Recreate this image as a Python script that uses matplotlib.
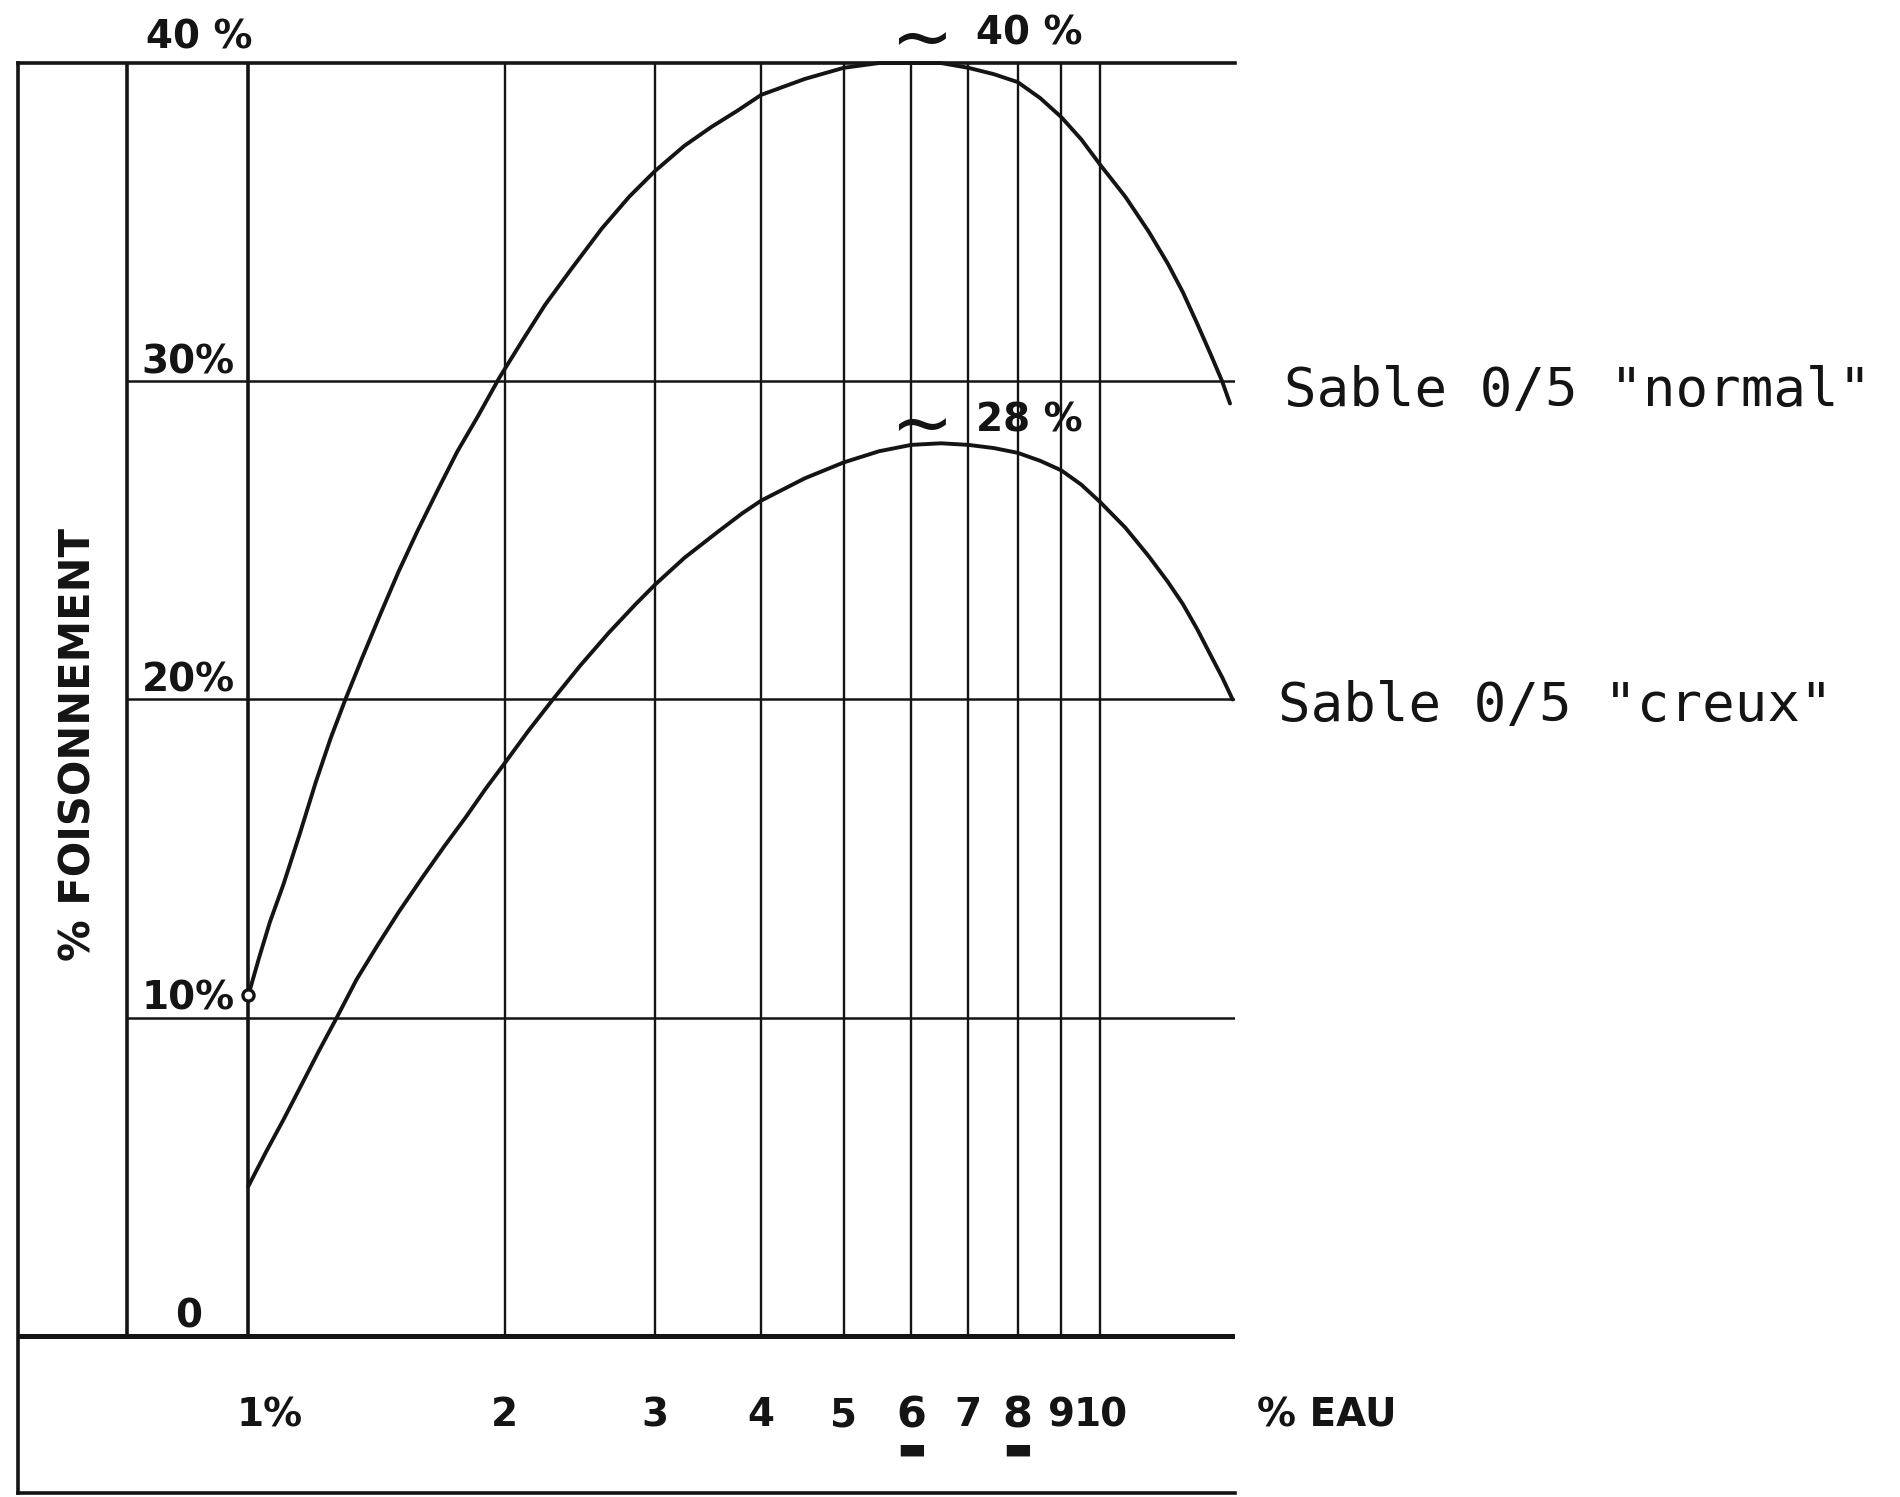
import matplotlib
matplotlib.use("Agg")
import matplotlib.pyplot as plt
import matplotlib.transforms as mtransforms
from matplotlib.ticker import NullLocator

# ---------------- data ----------------
water_normal = [1.00, 1.03, 1.06, 1.10, 1.15, 1.20, 1.25, 1.30, 1.36, 1.43,
                1.50, 1.58, 1.67, 1.76, 1.86, 1.97, 2.10, 2.23, 2.39, 2.60,
                2.80, 3.00, 3.25, 3.50, 3.75, 4.00, 4.50, 5.00, 5.50, 6.00,
                6.50, 7.00, 7.50, 8.00, 8.50, 9.00, 9.50, 10.0, 10.7, 11.4,
                12.0, 12.5, 13.0, 13.5, 13.9, 14.2]
fois_normal = [10.7, 11.9, 13.0, 14.2, 15.8, 17.4, 18.8, 20.0, 21.3, 22.7,
               24.0, 25.3, 26.6, 27.8, 28.9, 30.1, 31.3, 32.4, 33.5, 34.8,
               35.8, 36.6, 37.4, 38.0, 38.5, 39.0, 39.5, 39.85, 40.0, 40.0,
               40.0, 39.85, 39.65, 39.4, 38.9, 38.3, 37.6, 36.8, 35.8, 34.7,
               33.7, 32.8, 31.8, 30.8, 30.0, 29.3]

water_creux = [1.00, 1.05, 1.10, 1.15, 1.21, 1.27, 1.34, 1.42, 1.50, 1.60,
               1.70, 1.80, 1.90, 2.00, 2.13, 2.27, 2.45, 2.65, 2.85, 3.00,
               3.25, 3.55, 3.80, 4.00, 4.50, 5.00, 5.50, 6.00, 6.50, 7.00,
               7.50, 8.00, 8.50, 9.00, 9.50, 10.0, 10.7, 11.4, 12.0, 12.5,
               13.0, 13.5, 13.9, 14.3]
fois_creux = [4.7, 5.8, 6.8, 7.8, 8.95, 10.0, 11.2, 12.3, 13.3, 14.4,
              15.4, 16.3, 17.2, 18.0, 19.0, 19.95, 21.05, 22.1, 23.0, 23.6,
              24.45, 25.25, 25.85, 26.25, 26.95, 27.45, 27.8, 28.0, 28.05, 28.0,
              27.9, 27.75, 27.5, 27.2, 26.75, 26.2, 25.4, 24.5, 23.7, 23.0,
              22.2, 21.35, 20.7, 20.0]

x_ticks = [1, 2, 3, 4, 5, 6, 7, 8, 9, 10]
x_tick_labels = ["1%", "2", "3", "4", "5", "6", "7", "8", "9", "10"]
underlined_ticks = [6, 8]
y_ticks = [0, 10, 20, 30, 40]
y_tick_labels = ["0", "10%", "20%", "30%", "40 %"]
peak_labels = ["40 %", "28 %"]
series_labels = ['Sable 0/5 "normal"', 'Sable 0/5 "creux"']
x_label = "% EAU"
y_label = "% FOISONNEMENT"

# ---------------- layout / style ----------------
INK = "#141414"
X_MIN, X_MAX = 0.537, 14.4
Y_MIN, Y_MAX = -4.95, 40
inner_frame_x = 0.72
label_x = 0.85

fig = plt.figure(figsize=(19, 14.97), dpi=100)
fig.patch.set_facecolor("white")
ax = fig.add_axes([0.0096, 0.0024, 0.6405, 0.9555])
ax.set_xscale("log")
ax.set_xlim(X_MIN, X_MAX)
ax.set_ylim(Y_MIN, Y_MAX)
ax.xaxis.set_minor_locator(NullLocator())
ax.xaxis.set_major_locator(NullLocator())
ax.yaxis.set_major_locator(NullLocator())
ax.tick_params(which="both", length=0, labelbottom=False, labelleft=False)
for side in ("left", "top", "bottom"):
    ax.spines[side].set_linewidth(2.6)
    ax.spines[side].set_color(INK)
ax.spines["right"].set_visible(False)

# frame inner vertical and grid
ax.vlines(inner_frame_x, 0, Y_MAX, color=INK, lw=2.6)
grid_lw = [2.6 if v == 1 else 1.7 for v in x_ticks]
ax.vlines(x_ticks, 0, Y_MAX, colors=INK, linewidths=grid_lw)
ax.hlines([v for v in y_ticks if 0 < v < Y_MAX], inner_frame_x, X_MAX,
          colors=INK, linewidths=1.8)
ax.axhline(0, color=INK, lw=3.6)

# curves
for xs, ys in ((water_normal, fois_normal), (water_creux, fois_creux)):
    ax.plot(xs, ys, color=INK, lw=2.8, solid_capstyle="round",
            solid_joinstyle="round", clip_on=False)
ax.plot(water_normal[:1], fois_normal[:1], marker="o", ms=8, mfc="white",
        mec=INK, mew=2.4, ls="none", zorder=5)

lbl_font = dict(family="DejaVu Sans", fontweight="bold", color=INK)
TICK_FS = 28

# y tick labels
for v, t in zip(y_ticks, y_tick_labels):
    dy = 0.25 if v < Y_MAX else 0.45
    ax.text(label_x if v < Y_MAX else 0.875, v + dy, t, ha="center",
            va="baseline", fontsize=TICK_FS, **lbl_font)

# x tick labels
for v, t in zip(x_ticks, x_tick_labels):
    if t.endswith("%"):
        ax.text(v * 0.968, -2.5, t, ha="left", va="center",
                fontsize=TICK_FS, **lbl_font)
    else:
        ax.text(v, -2.5, t, ha="center", va="center",
                fontsize=TICK_FS if v not in underlined_ticks else 31,
                **lbl_font)
    if v in underlined_ticks:
        ax.text(v, -3.6, "\u25ac", ha="center", va="center", fontsize=22,
                color=INK)

blend = mtransforms.blended_transform_factory(ax.transAxes, ax.transData)
ax.text(1.018, -2.5, x_label, transform=blend, ha="left", va="center",
        fontsize=TICK_FS, **lbl_font)

ax.text(0.0498, 18.6, y_label, transform=blend, rotation=90, ha="center",
        va="center", fontsize=30, **lbl_font)

# peak annotations
peaks = [max(fois_normal), max(fois_creux)]
for pk, t, off in zip(peaks, peak_labels, (0.74, 0.55)):
    ax.text(6.0, pk + off, r"$\sim$", ha="center", va="center", fontsize=54,
            color=INK, clip_on=False)
    ax.text(7.15, pk + off + 0.18, t, ha="left", va="center",
            fontsize=TICK_FS, clip_on=False, **lbl_font)

# series labels
ends = [fois_normal[-1] + 0.4, fois_creux[-1] - 0.2]
offs = [1.04, 1.035]
for lab, y, xo in zip(series_labels, ends, offs):
    ax.text(xo, y, lab, transform=blend, ha="left", va="center",
            fontsize=39, family="DejaVu Sans Mono", color=INK)

fig.savefig("out.png", dpi=100, facecolor="white")
